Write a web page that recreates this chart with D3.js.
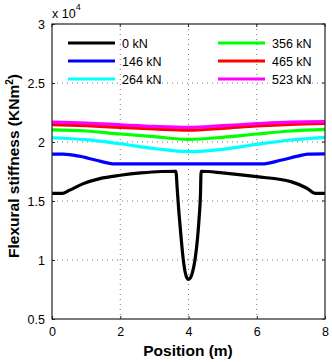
<!DOCTYPE html>
<html>
<head>
<meta charset="utf-8">
<script src="https://cdn.jsdelivr.net/npm/d3@7"></script>
<style>
body { margin: 0; background: #fff; }
text { font-family: "Liberation Sans", Arial, sans-serif; }
</style>
</head>
<body>
<div id="chart"></div>
<script>
// series data (position in m, stiffness in 1e4 kNm^2)
var loads = ["0 kN", "146 kN", "264 kN", "356 kN", "465 kN", "523 kN"];
var colors = ["#000000", "#0000ff", "#00ffff", "#00ff00", "#ff0000", "#ff00ff"];

var pos0 = [0, 0.3, 0.5, 0.9, 1.4, 2.0, 2.6, 3.2, 3.63, 3.67, 3.72, 3.78, 3.84, 3.90, 3.95, 4.0,
	4.06, 4.12, 4.19, 4.26, 4.31, 4.35, 4.37, 5.0, 6.0, 7.0, 7.47, 7.72, 8.0];
var val0 = [1.565, 1.565, 1.59, 1.645, 1.69, 1.718, 1.738, 1.75, 1.752, 1.60, 1.40, 1.20, 1.02, 0.90, 0.85, 0.836,
	0.85, 0.90, 1.00, 1.17, 1.35, 1.55, 1.752, 1.738, 1.706, 1.664, 1.608, 1.565, 1.565];

var pos146 = [0, 0.33, 0.8, 1.3, 1.85, 6.15, 6.7, 7.2, 7.5, 8];
var val146 = [1.898, 1.898, 1.88, 1.845, 1.814, 1.814, 1.845, 1.88, 1.898, 1.90];

var posEven = [0, 1, 2, 3, 4, 5, 6, 7, 8];
var val264 = [2.036, 2.02, 1.985, 1.945, 1.918, 1.938, 1.98, 2.017, 2.04];
var val356 = [2.102, 2.093, 2.068, 2.045, 2.023, 2.04, 2.068, 2.093, 2.107];
var val465 = [2.148, 2.138, 2.124, 2.11, 2.10, 2.116, 2.136, 2.15, 2.158];
var val523 = [2.168, 2.16, 2.146, 2.132, 2.124, 2.138, 2.155, 2.168, 2.172];

var xTicks = [0, 2, 4, 6, 8];
var yTicks = [0.5, 1, 1.5, 2, 2.5, 3];

var series = [
	{ x: pos0, y: val0 },
	{ x: pos146, y: val146 },
	{ x: posEven, y: val264 },
	{ x: posEven, y: val356 },
	{ x: posEven, y: val465 },
	{ x: posEven, y: val523 }
];

var width = 332, height = 362,
	plotLeft = 52, plotTop = 24, plotRight = 325, plotBottom = 319;

var svg = d3.select("#chart").append("svg")
	.attr("width", width)
	.attr("height", height);

var xScale = d3.scaleLinear().domain([0, 8]).range([plotLeft, plotRight]);
var yScale = d3.scaleLinear().domain([0.5, 3]).range([plotBottom, plotTop]);

// dotted grid
svg.append("g").selectAll("line")
	.data(xTicks.slice(1, -1))
	.enter().append("line")
	.attr("x1", function(d) { return xScale(d); })
	.attr("x2", function(d) { return xScale(d); })
	.attr("y1", plotTop).attr("y2", plotBottom)
	.attr("stroke", "#777").attr("stroke-dasharray", "1,4");

svg.append("g").selectAll("line")
	.data(yTicks.slice(1, -1))
	.enter().append("line")
	.attr("y1", function(d) { return yScale(d); })
	.attr("y2", function(d) { return yScale(d); })
	.attr("x1", plotLeft).attr("x2", plotRight)
	.attr("stroke", "#777").attr("stroke-dasharray", "1,4");

// lines
var line = d3.line()
	.x(function(d) { return xScale(d[0]); })
	.y(function(d) { return yScale(d[1]); })
	.curve(d3.curveMonotoneX);

svg.append("g").selectAll("path")
	.data(series)
	.enter().append("path")
	.attr("d", function(s) { return line(d3.zip(s.x, s.y)); })
	.attr("fill", "none")
	.attr("stroke", function(s, i) { return colors[i]; })
	.attr("stroke-width", 3.2)
	.attr("stroke-linejoin", "round");

// axes with inner ticks
var xAxis = d3.axisBottom(xScale).tickValues(xTicks).tickSizeInner(-3).tickSizeOuter(0).tickPadding(8);
var yAxis = d3.axisLeft(yScale).tickValues(yTicks).tickSizeInner(-3).tickSizeOuter(0).tickPadding(7)
	.tickFormat(function(d) { return d; });

svg.append("g")
	.attr("transform", `translate(0,${plotBottom})`)
	.call(xAxis)
	.call(function(g) { g.select(".domain").remove(); });

svg.append("g")
	.attr("transform", `translate(${plotLeft},0)`)
	.call(yAxis)
	.call(function(g) { g.select(".domain").remove(); });

svg.selectAll(".tick text")
	.attr("font-size", 12.5)
	.attr("font-family", "Liberation Sans, Arial, sans-serif")
	.attr("fill", "#000");
svg.selectAll(".tick line").attr("stroke", "#222");

// opposite-side ticks
svg.append("g").selectAll("line")
	.data(xTicks)
	.enter().append("line")
	.attr("x1", function(d) { return xScale(d); })
	.attr("x2", function(d) { return xScale(d); })
	.attr("y1", plotTop).attr("y2", plotTop + 3)
	.attr("stroke", "#222");
svg.append("g").selectAll("line")
	.data(yTicks)
	.enter().append("line")
	.attr("y1", function(d) { return yScale(d); })
	.attr("y2", function(d) { return yScale(d); })
	.attr("x1", plotRight).attr("x2", plotRight - 3)
	.attr("stroke", "#222");

// frame
svg.append("rect")
	.attr("x", plotLeft).attr("y", plotTop)
	.attr("width", plotRight - plotLeft).attr("height", plotBottom - plotTop)
	.attr("fill", "none").attr("stroke", "#222").attr("stroke-width", 1.2);

// exponent label
var expo = svg.append("text")
	.attr("x", 52).attr("y", 17.5)
	.attr("font-size", 12.5);
expo.append("tspan").text("x 10");
expo.append("tspan").attr("dy", -8).attr("font-size", 9).text("4");

// legend
var legRows = [43, 61, 79];
var legend = svg.append("g").selectAll("g")
	.data(loads)
	.enter().append("g")
	.attr("transform", function(d, i) {
		var col = i < 3 ? 0 : 1;
		return `translate(${col ? 218 : 68},${legRows[i % 3]})`;
	});
legend.append("line")
	.attr("x1", 0).attr("x2", 47)
	.attr("stroke", function(d, i) { return colors[i]; })
	.attr("stroke-width", 3.2);
legend.append("text")
	.attr("x", 54).attr("y", 4.5)
	.attr("font-size", 12.5)
	.text(function(d) { return d; });

// axis titles
svg.append("text")
	.attr("x", 188).attr("y", 356)
	.attr("text-anchor", "middle")
	.attr("font-size", 15.5)
	.attr("font-weight", "bold")
	.text("Position (m)");

var yt = svg.append("text")
	.attr("transform", "translate(19,166) rotate(-90)")
	.attr("text-anchor", "middle")
	.attr("font-size", 15.5)
	.attr("font-weight", "bold");
yt.append("tspan").text("Flexural stiffness (KNm");
yt.append("tspan").attr("dy", -6).attr("font-size", 10).text("2");
yt.append("tspan").attr("dy", 6).text(")");
</script>
</body>
</html>
